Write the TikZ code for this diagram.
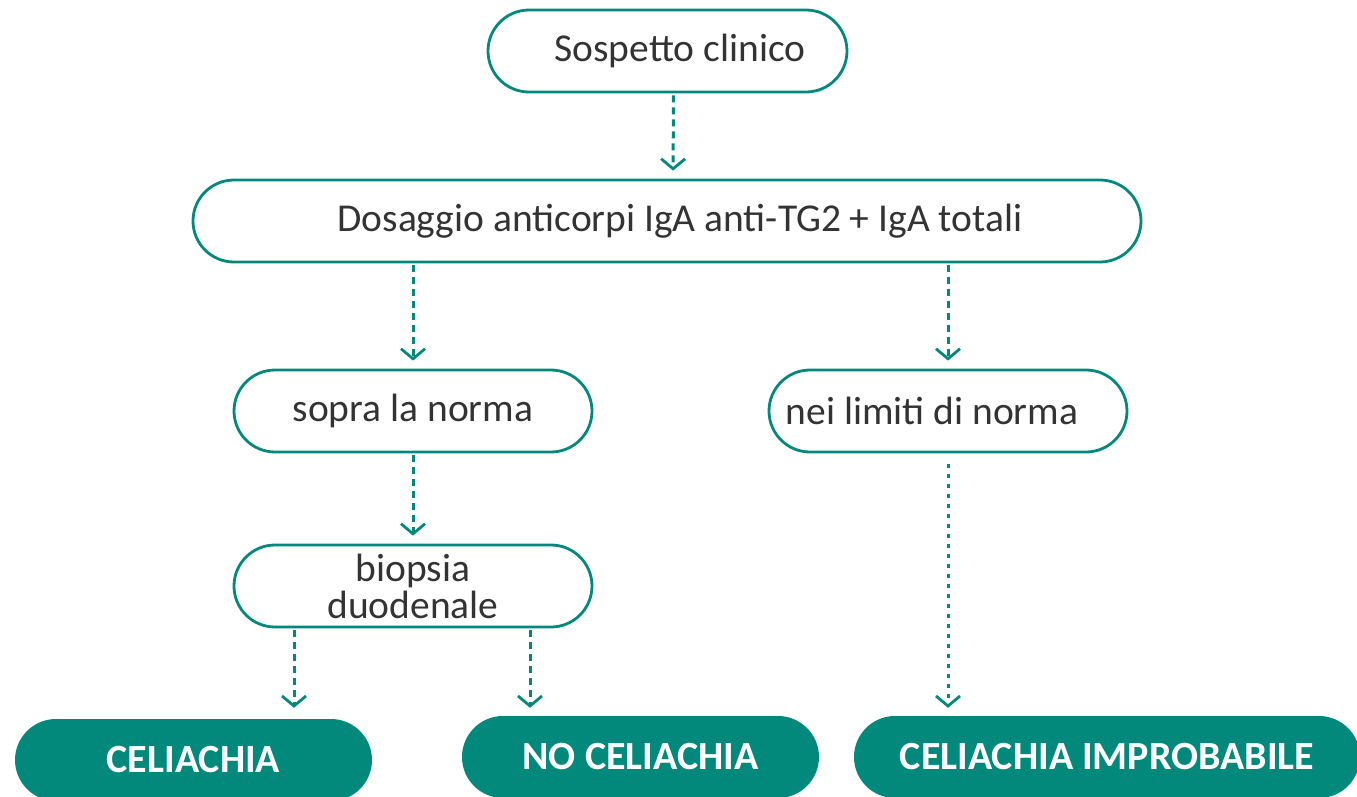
\documentclass[tikz,border=0pt]{standalone}
\usepackage{fontspec}
\setmainfont{Carlito}
\usetikzlibrary{arrows.meta,calc}
\definecolor{teal1}{HTML}{03897B}
\definecolor{txt}{HTML}{333333}
\begin{document}
\begin{tikzpicture}[x=1pt,y=-1pt,
  box/.style={draw=teal1,line width=2.8pt,rectangle,rounded corners=41pt,minimum height=82pt,inner sep=0pt,text=txt,font=\fontsize{39.5}{37}\selectfont,align=center},
  endbox/.style={fill=teal1,rectangle,rounded corners=41pt,minimum height=82pt,inner sep=0pt,text=white,font=\fontsize{40}{40}\selectfont\bfseries},
  arr/.style={draw=teal1,line width=3pt,dash pattern=on 7pt off 5pt,-{Straight Barb[length=10pt,width=24pt,line width=2.8pt]},shorten >=8pt,shorten <=2pt},
  arrlong/.style={arr,dash pattern=on 4pt off 6pt,shorten <=11pt}
]
\useasboundingbox (0,0) rectangle (1357,796);
\node[box,minimum width=359pt] (sosp) at (667.5,51) {\hspace*{25pt}Sospetto clinico};
\node[box,minimum width=948pt] (dos) at (667,221) {\hspace*{26pt}Dosaggio anticorpi IgA anti-TG2 + IgA totali};
\node[box,minimum width=358pt] (sopra) at (413,411) {sopra la norma};
\node[box,minimum width=358pt] (nei) at (948,411) {nei limiti di norma\hspace*{32pt}};
\node[box,minimum width=358pt] (bio) at (413,586) {biopsia\\duodenale};
\node[endbox,minimum width=357pt] (cel) at (193.5,760) {CELIACHIA};
\node[endbox,minimum width=357pt] (nocel) at (640.5,757) {NO CELIACHIA};
\node[endbox,minimum width=506pt] (imp) at (1107,757) {CELIACHIA IMPROBABILE};
\draw[arr] ([xshift=6pt]sosp.south) -- ([xshift=6pt]dos.north);
\draw[arr] (dos.south -| sopra.north) -- (sopra.north);
\draw[arr] (dos.south -| nei.north) -- (nei.north);
\draw[arr] (sopra.south) -- (bio.north);
\draw[arr,shorten >=11pt] ([xshift=-119pt]bio.south) -- ([xshift=-119pt]bio.south |- cel.north);
\draw[arr] ([xshift=117pt]bio.south) -- ([xshift=117pt]bio.south |- nocel.north);
\draw[arrlong] (nei.south) -- (nei.south |- imp.north);
\end{tikzpicture}
\end{document}
